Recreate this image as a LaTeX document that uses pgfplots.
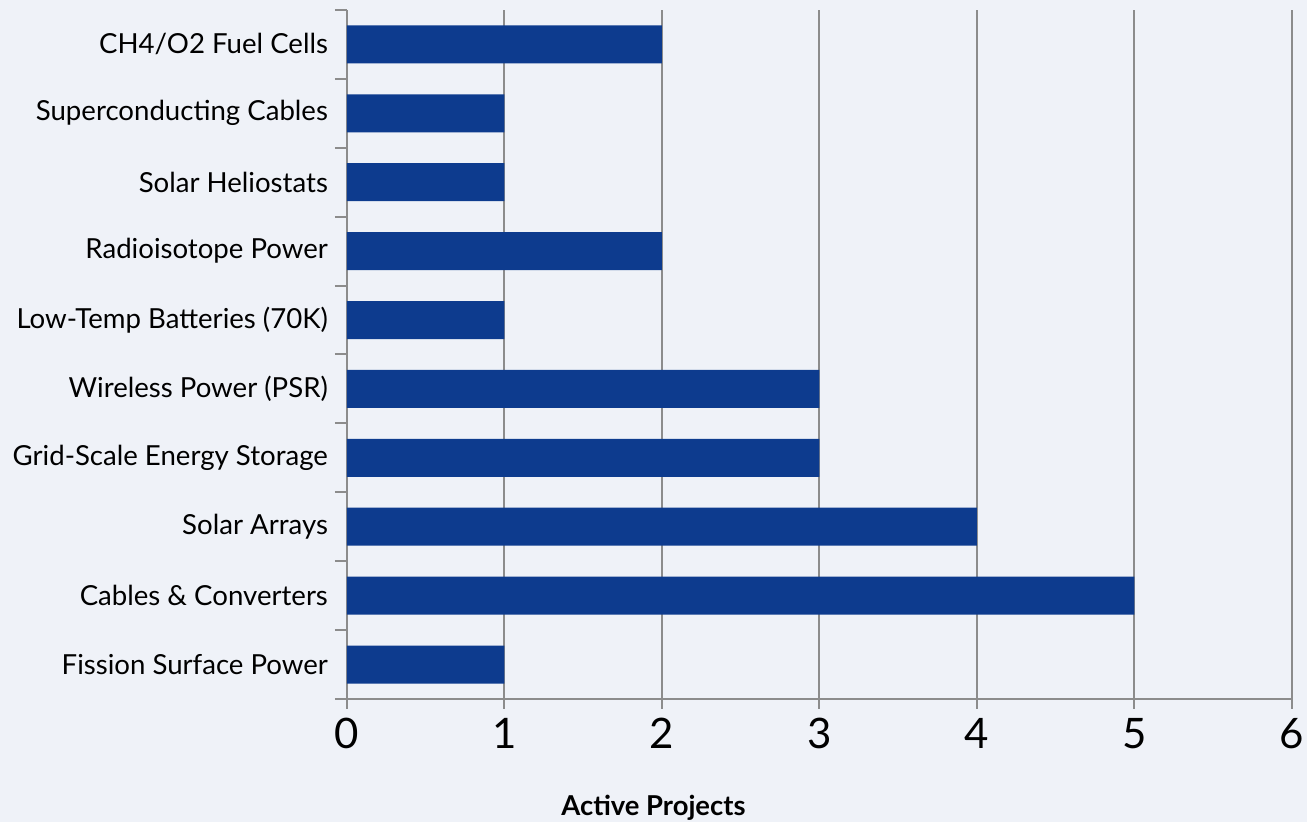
\documentclass[border=0pt]{standalone}
\usepackage{pgfplots}
\pgfplotsset{compat=1.18}
\usepackage{fontspec}
\setmainfont{Lato}
\definecolor{bgc}{RGB}{239,242,248}
\definecolor{barc}{RGB}{13,59,142}
\definecolor{gridc}{RGB}{140,140,140}
\begin{document}
\begin{tikzpicture}
\fill[bgc] (-173.5pt,-61.5pt) rectangle (480pt,349.5pt);
\begin{axis}[
  at={(0,0)}, anchor=south west,
  scale only axis, width=472.5pt, height=344.5pt,
  xmin=0, xmax=6, ymin=-0.5, ymax=9.5,
  xbar, bar width=19pt,
  axis x line=bottom, axis y line=left,
  axis line style={-, gridc, line width=1pt},
  tick align=outside,
  xtick={0,1,2,3,4,5,6},
  xmajorgrids, grid style={gridc, line width=1pt},
  ytick={0,...,9},
  yticklabels={Fission Surface Power, Cables \& Converters, Solar Arrays, Grid-Scale Energy Storage, Wireless Power (PSR), Low-Temp Batteries (70K), Radioisotope Power, Solar Heliostats, Superconducting Cables, CH4/O2 Fuel Cells},
  minor ytick={-0.5,0.5,...,9.5},
  major tick length=5pt, minor tick length=6pt,
  major x tick style={gridc, line width=1pt},
  major y tick style={draw=none},
  minor y tick style={gridc, line width=1pt},
  /pgf/number format/assume math mode=true,
  xticklabel style={font=\fontsize{21}{24}\selectfont, text=black, yshift=-1pt},
  yticklabel style={font=\fontsize{13.8}{16}\selectfont, text=black, xshift=-1pt},
  xlabel={Active Projects},
  xlabel style={font=\bfseries\fontsize{13.7}{16}\selectfont, at={(axis description cs:0.3243,-0.1575)}, anchor=center},
]
\addplot[fill=barc, draw=none] coordinates {
(1,0) (5,1) (4,2) (3,3) (3,4) (1,5) (2,6) (1,7) (1,8) (2,9)
};
\end{axis}
\pgfresetboundingbox
\useasboundingbox (-173.5pt,-61.5pt) rectangle (480pt,349.5pt);
\end{tikzpicture}
\end{document}
